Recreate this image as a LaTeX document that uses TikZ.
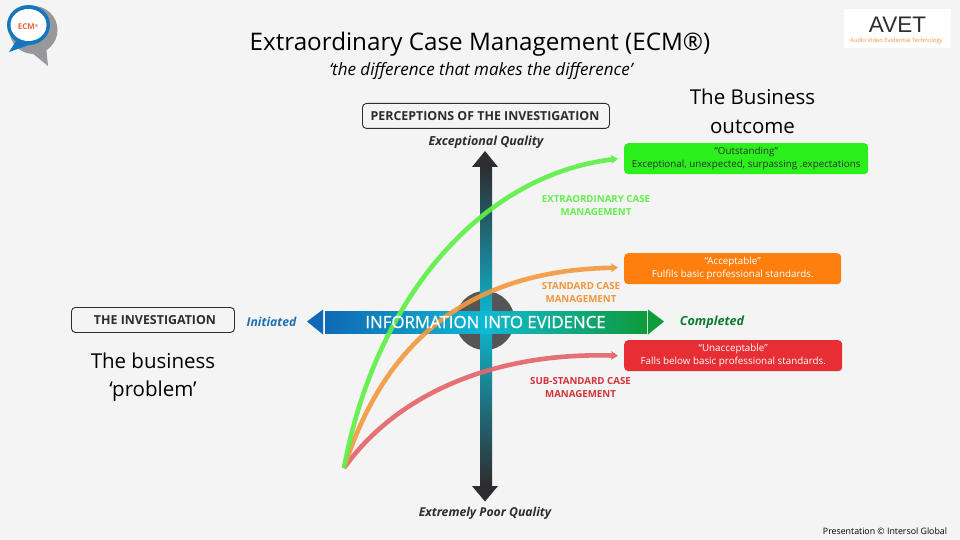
\documentclass[tikz,border=0pt]{standalone}
\usepackage{fontspec}
\setmainfont{Open Sans}
\newfontfamily\lib{Liberation Sans}
\newfontfamily\infofont[FakeBold=0.8]{Open Sans}
\usetikzlibrary{arrows.meta,calc}
\definecolor{bg}{HTML}{F4F4F4}
\definecolor{cgreen}{HTML}{2CF01C}
\definecolor{corange}{HTML}{FF7F0E}
\definecolor{cred}{HTML}{E62E34}
\definecolor{ldark}{HTML}{2D2D30}
\definecolor{lgreen}{HTML}{5FF048}
\definecolor{lorange}{HTML}{F39A42}
\definecolor{lred}{HTML}{E4666A}
\definecolor{tgreen}{HTML}{66EE4E}
\definecolor{torange}{HTML}{F0963C}
\definecolor{tred}{HTML}{D2333C}
\definecolor{ablue}{HTML}{0F69B4}
\definecolor{acyan}{HTML}{0FB9D2}
\definecolor{agreen}{HTML}{0E9B3A}
\definecolor{lblue}{HTML}{1A6FB4}
\definecolor{dgreen}{HTML}{0F7A32}
\definecolor{ecmblue}{HTML}{1476BC}
\definecolor{ecmgray}{HTML}{96989C}
\definecolor{ecmorange}{HTML}{E8643C}
\tikzset{
  x=1pt,y=-1pt,
  heading/.style={text=black,align=center,inner sep=0},
  outbox/.style={draw=ldark,line width=0.9pt,rounded corners=4pt,fill=bg,inner sep=0,anchor=north west},
  outcome/.style={rounded corners=4pt,anchor=north west,inner sep=0,minimum height=31pt,align=center,font=\fontsize{9.8}{13}\selectfont},
  caselabel/.style={font=\fontsize{9.7}{12.8}\selectfont\bfseries,align=center,inner sep=0},
  quality/.style={text=ldark,inner sep=0},
  curve/.style={line width=4.6pt,opacity=.92,-{Stealth[length=7pt,width=9pt,inset=2pt]}},
}
\begin{document}
\begin{tikzpicture}
\useasboundingbox (0,0) rectangle (960,540);
\fill[bg] (0,0) rectangle (960,540);

% ECM logo
\fill[ecmgray] (33.5,30) circle (24);
\fill[ecmgray] (26,48) -- (48,66) -- (46,46) -- cycle;
\fill[ecmblue] (28.5,25) ellipse (21.5 and 20);
\fill[ecmblue] (18,38) -- (9,52) -- (32,44) -- cycle;
\fill[white] (28.5,25) ellipse (18 and 16);
\node[inner sep=0,text=ecmorange,font=\fontsize{8}{8}\selectfont\bfseries] (ecmtext) at (28,27) {ECM\raisebox{2pt}{\fontsize{4}{4}\selectfont®}};

% AVET logo
\node[fill=white,anchor=north west,minimum width=107pt,minimum height=39pt,inner sep=0] (avetbox) at (844,9) {};
\node[inner sep=0,font=\fontsize{22.5}{23}\selectfont\lib,text=ldark] (avet) at (897.5,25) {AVET};
\node[inner sep=0,font=\fontsize{5.8}{6}\selectfont,text=torange] (avetsub) at (896.5,41) {Audio Video Evidential Technology};

% titles
\node[heading,font=\fontsize{24.2}{25}\selectfont] (title) at (480,44) {Extraordinary Case Management (ECM®)};
\node[heading,font=\fontsize{17}{17}\selectfont\itshape] (subtitle) at (481,71) {‘the difference that makes the difference’};
\node[heading,font=\fontsize{20.5}{28.5}\selectfont] (outcome) at (752.5,111.5) {The Business\\outcome};
\node[heading,font=\fontsize{20.5}{28.5}\selectfont] (problem) at (153,377) {The business\\‘problem’};

% circle behind arrows
\fill[ldark!80!bg] (485,320.5) circle (29.5);

% vertical arrow
\shade[top color=ldark,bottom color=acyan] (480,167) rectangle (492,321);
\shade[top color=acyan,bottom color=ldark] (480,321) rectangle (492,485);
\fill[ldark] (472,167) -- (485,151) -- (498,167) -- cycle;
\fill[ldark] (472,486) -- (485,501.5) -- (498,486) -- cycle;

% horizontal arrow
\shade[left color=ablue,right color=acyan] (325,311) rectangle (485,333);
\shade[left color=acyan,right color=agreen] (485,311) rectangle (647,333);
\fill[ablue] (323,309.5) -- (307,321.5) -- (323,334.5) -- cycle;
\fill[agreen] (648,309.5) -- (664,321.5) -- (648,334.5) -- cycle;

% boxes
\node[outbox,minimum width=247pt,minimum height=25pt] (perc) at (362,103) {};
\node[inner sep=0,font=\fontsize{12.4}{13}\selectfont\bfseries,text=ldark] (perctext) at (485,116) {PERCEPTIONS OF THE INVESTIGATION};
\node[outbox,minimum width=163pt,minimum height=25pt] (inv) at (71,307) {};
\node[inner sep=0,font=\fontsize{12.4}{12}\selectfont\bfseries,text=ldark] (invtext) at (155,320) {THE INVESTIGATION};

\node[outcome,fill=cgreen,minimum width=244pt,text=ldark] (good) at (624,143) {“Outstanding”\\Exceptional, unexpected, surpassing .expectations};
\node[outcome,fill=corange,minimum width=217pt,text=white] (ok) at (624,253) {“Acceptable”\\Fulfils basic professional standards.};
\node[outcome,fill=cred,minimum width=218pt,text=white] (bad) at (624,340) {“Unacceptable”\\Falls below basic professional standards.};

% curves
\coordinate (start) at (344,468);
\draw[curve,lred] (start) .. controls (400,390) and (500,352) .. ($(bad.west)+(-6,0)$);
\draw[curve,lorange] (start) .. controls (385,340) and (470,270) .. ($(ok.west)+(-6,-1)$);
\draw[curve,lgreen] (start) .. controls (375,300) and (480,175) .. ($(good.west)+(-6,0)$);

% bar text
\node[inner sep=0,text=white,font=\fontsize{16.8}{17}\selectfont\infofont] (infotext) at (485.5,322) {INFORMATION INTO EVIDENCE};

% labels
\node[quality,font=\fontsize{12.5}{13}\selectfont\bfseries\itshape] (exc) at (486,142.5) {Exceptional Quality};
\node[quality,font=\fontsize{12.2}{13}\selectfont\bfseries\itshape] (poor) at (485,513) {Extremely Poor Quality};
\node[inner sep=0,text=lblue,font=\fontsize{12.2}{13}\selectfont\bfseries\itshape] (init) at (271.5,322) {Initiated};
\node[inner sep=0,text=dgreen,font=\fontsize{12.6}{13}\selectfont\bfseries\itshape] (comp) at (712,322) {Completed};
\node[caselabel,text=tgreen] (ext) at (596,205.5) {EXTRAORDINARY CASE\\MANAGEMENT};
\node[caselabel,text=torange] (std) at (581,292.5) {STANDARD CASE\\MANAGEMENT};
\node[caselabel,text=tred] (sub) at (580.5,387.5) {SUB-STANDARD CASE\\MANAGEMENT};

\node[inner sep=0,text=black,font=\fontsize{8.8}{9}\selectfont] (copy) at (885,531) {Presentation © Intersol Global};
\end{tikzpicture}
\end{document}
